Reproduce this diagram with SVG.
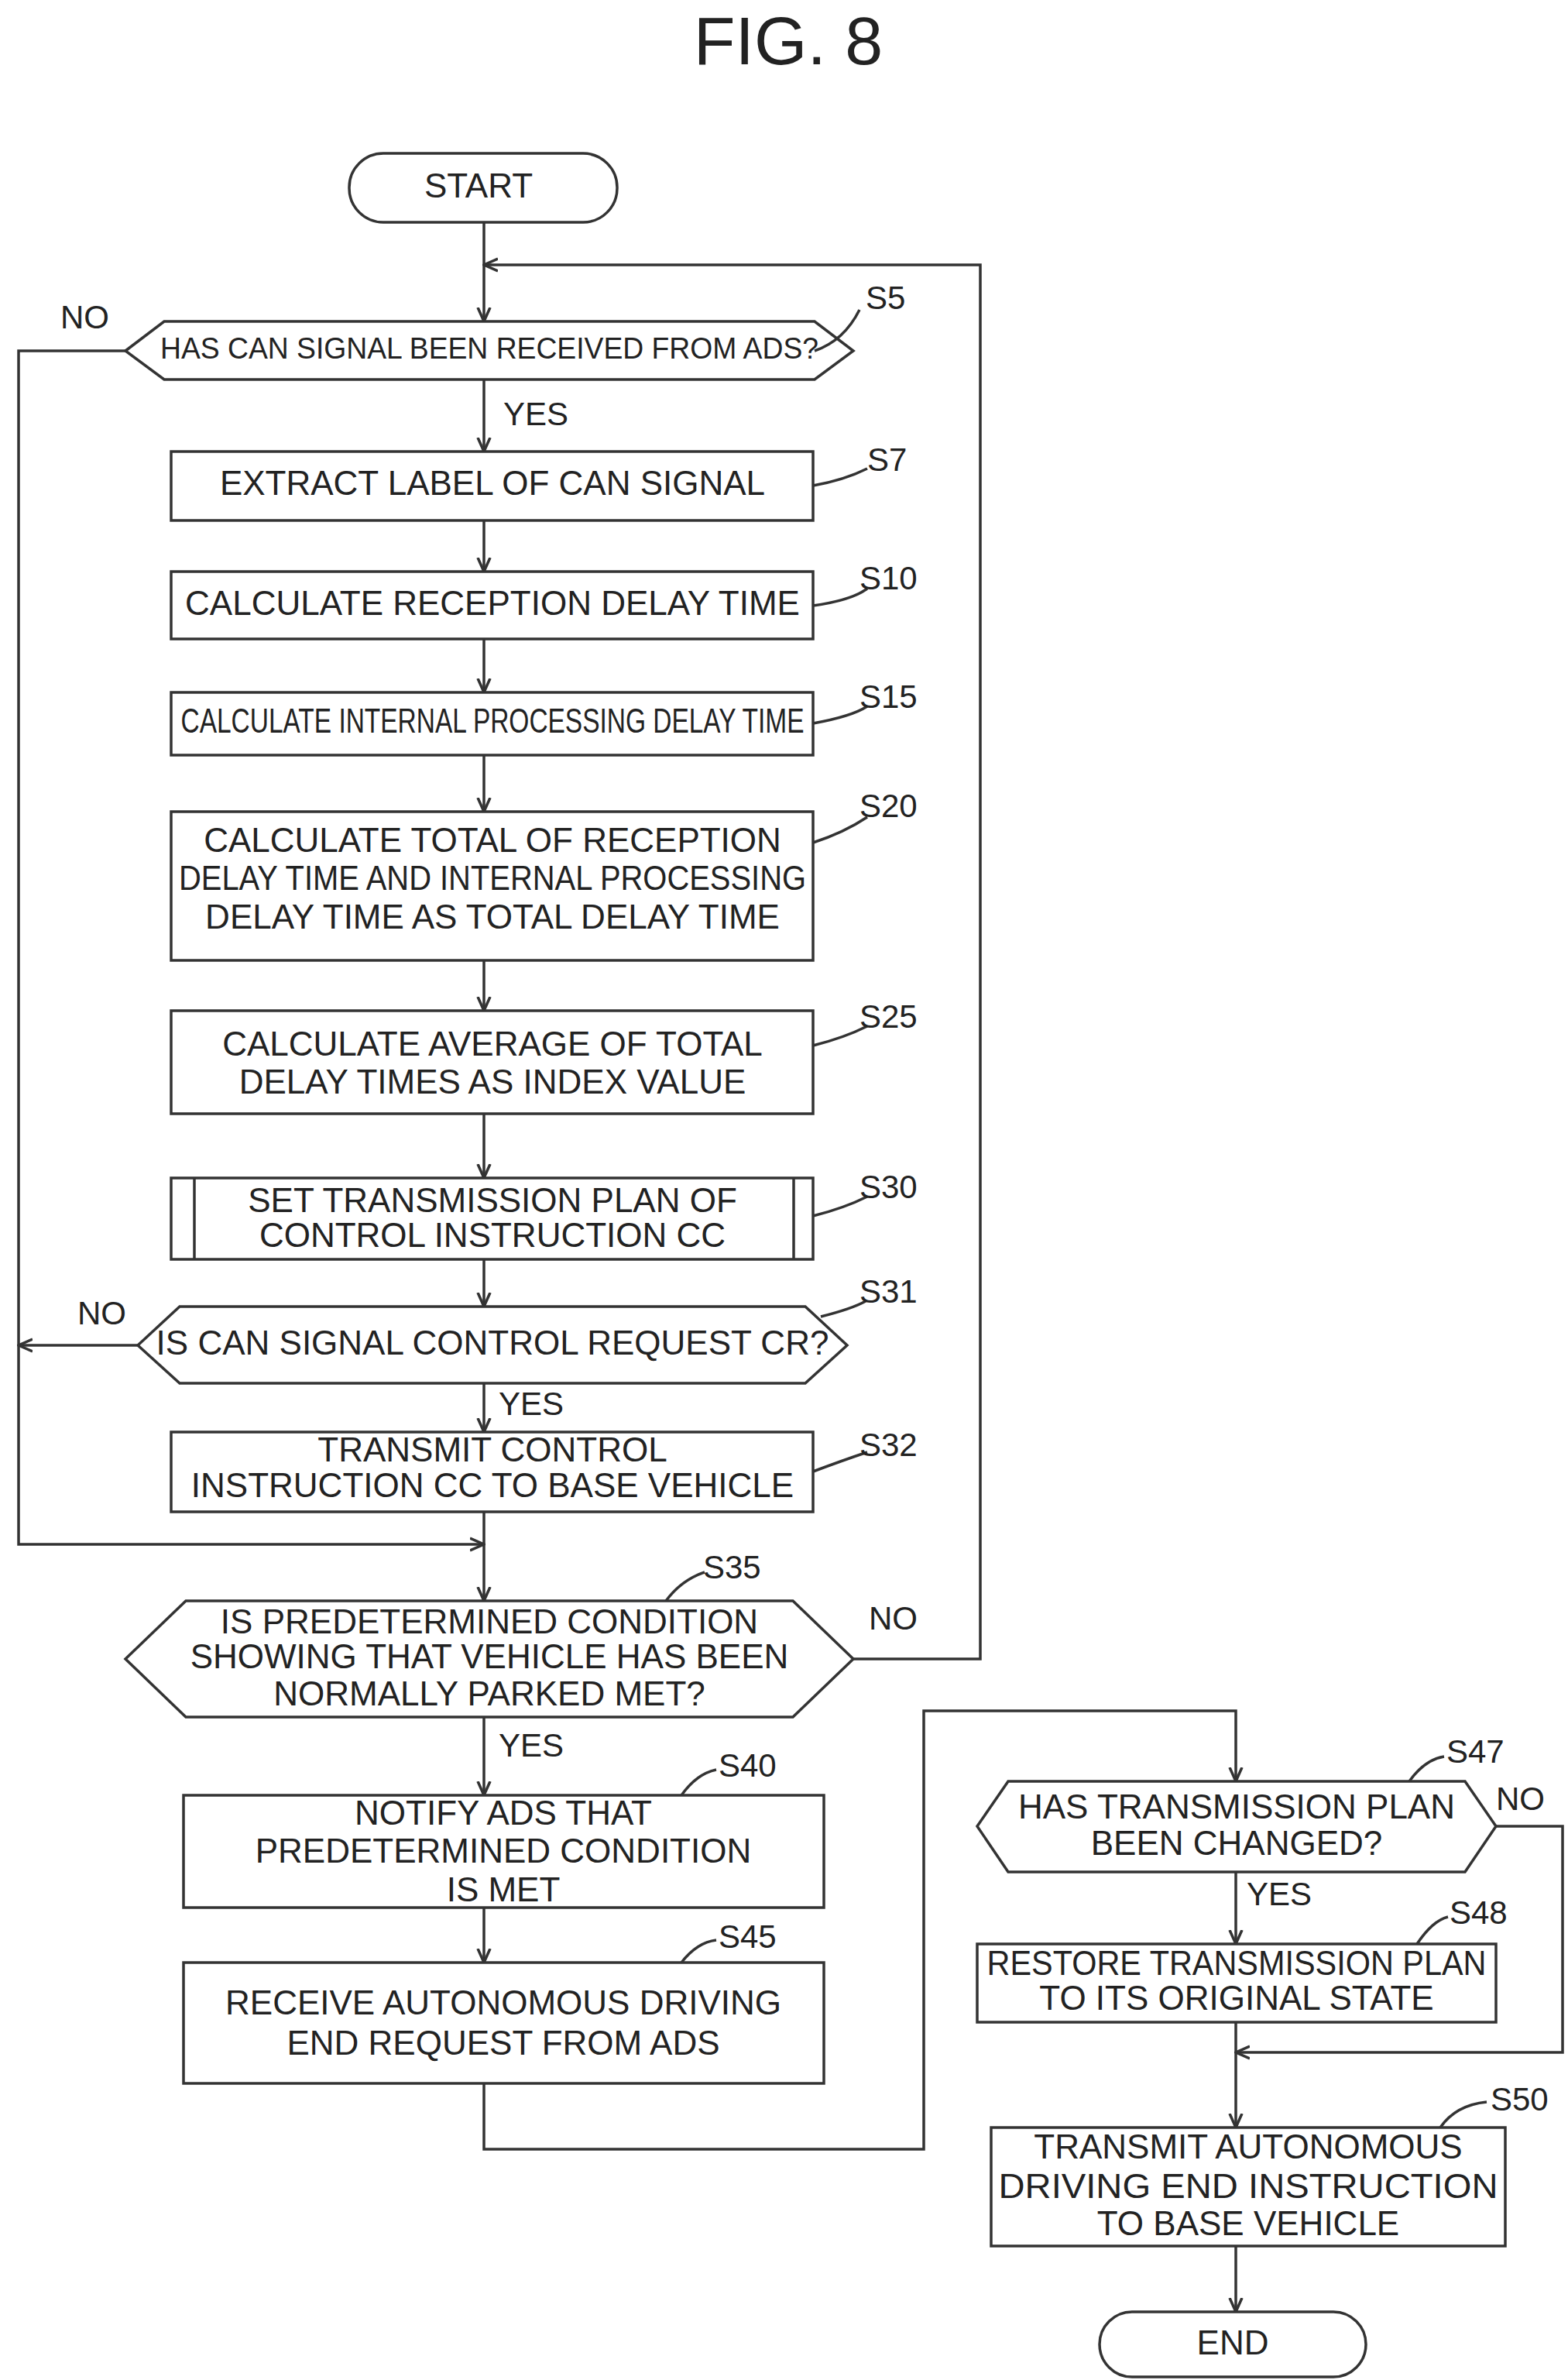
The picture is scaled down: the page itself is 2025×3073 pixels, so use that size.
<svg xmlns="http://www.w3.org/2000/svg" width="2025" height="3073" viewBox="0 0 2025 3073">
<style>
.b{fill:#fff;stroke:#333;stroke-width:3.5}
.c{fill:none;stroke:#333;stroke-width:3.5}
.t{font-family:"Liberation Sans",Arial,sans-serif;font-size:44px;fill:#222;text-anchor:middle;dominant-baseline:middle}
.l{font-family:"Liberation Sans",Arial,sans-serif;font-size:42px;fill:#222;dominant-baseline:middle}
</style>
<defs>
<marker id="a" viewBox="0 0 20 20" refX="18" refY="10" markerWidth="20" markerHeight="20" markerUnits="userSpaceOnUse" orient="auto"><path d="M0,2 L18,10 L0,18" fill="none" stroke="#333" stroke-width="3.5"/></marker>
</defs>
<rect width="2025" height="3073" fill="#fff"/>
<text x="1018" y="60" class="t" style="font-size:88px">FIG. 8</text>
<g id="connectors">
<path class="c" d="M625,287 V342" />
<path class="c" d="M1102,2142 H1266 V342 H625" marker-end="url(#a)"/>
<path class="c" d="M625,342 V415" marker-end="url(#a)"/>
<path class="c" d="M625,490 V583" marker-end="url(#a)"/>
<path class="c" d="M625,672 V738" marker-end="url(#a)"/>
<path class="c" d="M625,825 V894" marker-end="url(#a)"/>
<path class="c" d="M625,975 V1048" marker-end="url(#a)"/>
<path class="c" d="M625,1240 V1305" marker-end="url(#a)"/>
<path class="c" d="M625,1438 V1521" marker-end="url(#a)"/>
<path class="c" d="M625,1626 V1687" marker-end="url(#a)"/>
<path class="c" d="M625,1786 V1849" marker-end="url(#a)"/>
<path class="c" d="M625,1952 V2067" marker-end="url(#a)"/>
<path class="c" d="M162,453 H24 V1994 H625" marker-end="url(#a)"/>
<path class="c" d="M178,1737 H24" marker-end="url(#a)"/>
<path class="c" d="M625,2217 V2318" marker-end="url(#a)"/>
<path class="c" d="M625,2463 V2534" marker-end="url(#a)"/>
<path class="c" d="M625,2690 V2775 H1193 V2209 H1596 V2300" marker-end="url(#a)"/>
<path class="c" d="M1596,2417 V2510" marker-end="url(#a)"/>
<path class="c" d="M1932,2358 H2018 V2650 H1596" marker-end="url(#a)"/>
<path class="c" d="M1596,2611 V2747" marker-end="url(#a)"/>
<path class="c" d="M1596,2900 V2985" marker-end="url(#a)"/>
</g>
<g id="start"><rect class="b" x="451" y="198" width="346" height="89" rx="44"/><text class="t" x="618" y="243">START</text></g>
<g id="s5"><polygon class="b" points="162,453 212,415 1052,415 1102,453 1052,490 212,490"/><text class="t" x="632" y="453" textLength="850" lengthAdjust="spacingAndGlyphs" style="font-size:38px">HAS CAN SIGNAL BEEN RECEIVED FROM ADS?</text>
<path class="c" d="M1052,453 Q1090,440 1110,400"/><text class="l" x="1118" y="388">S5</text>
<text class="l" x="78" y="413">NO</text><text class="l" x="650" y="538">YES</text></g>
<g id="s7"><rect class="b" x="221" y="583" width="829" height="89"/><text class="t" x="636" y="627">EXTRACT LABEL OF CAN SIGNAL</text>
<path class="c" d="M1050,627 Q1090,620 1120,605"/><text class="l" x="1120" y="597">S7</text></g>
<g id="s10"><rect class="b" x="221" y="738" width="829" height="87"/><text class="t" x="636" y="782">CALCULATE RECEPTION DELAY TIME</text>
<path class="c" d="M1050,782 Q1100,775 1120,760"/><text class="l" x="1110" y="750">S10</text></g>
<g id="s15"><rect class="b" x="221" y="894" width="829" height="81"/><text class="t" x="636" y="934" textLength="805" lengthAdjust="spacingAndGlyphs">CALCULATE INTERNAL PROCESSING DELAY TIME</text>
<path class="c" d="M1050,934 Q1100,925 1120,912"/><text class="l" x="1110" y="903">S15</text></g>
<g id="s20"><rect class="b" x="221" y="1048" width="829" height="192"/><text class="t" x="636" y="1088">CALCULATE TOTAL OF RECEPTION</text><text class="t" x="636" y="1137" textLength="810" lengthAdjust="spacingAndGlyphs">DELAY TIME AND INTERNAL PROCESSING</text><text class="t" x="636" y="1187">DELAY TIME AS TOTAL DELAY TIME</text>
<path class="c" d="M1050,1088 Q1090,1075 1120,1055"/><text class="l" x="1110" y="1044">S20</text></g>
<g id="s25"><rect class="b" x="221" y="1305" width="829" height="133"/><text class="t" x="636" y="1351">CALCULATE AVERAGE OF TOTAL</text><text class="t" x="636" y="1400">DELAY TIMES AS INDEX VALUE</text>
<path class="c" d="M1050,1350 Q1090,1340 1120,1325"/><text class="l" x="1110" y="1316">S25</text></g>
<g id="s30"><rect class="b" x="221" y="1521" width="829" height="105"/><path class="c" d="M251,1521 V1626 M1025,1521 V1626"/><text class="t" x="636" y="1553">SET TRANSMISSION PLAN OF</text><text class="t" x="636" y="1598">CONTROL INSTRUCTION CC</text>
<path class="c" d="M1050,1570 Q1090,1560 1120,1545"/><text class="l" x="1110" y="1536">S30</text></g>
<g id="s31"><polygon class="b" points="178,1737 232,1687 1040,1687 1094,1737 1040,1786 232,1786"/><text class="t" x="636" y="1737">IS CAN SIGNAL CONTROL REQUEST CR?</text>
<path class="c" d="M1060,1700 Q1100,1690 1118,1680"/><text class="l" x="1110" y="1671">S31</text>
<text class="l" x="100" y="1699">NO</text><text class="l" x="644" y="1816">YES</text></g>
<g id="s32"><rect class="b" x="221" y="1849" width="829" height="103"/><text class="t" x="636" y="1875">TRANSMIT CONTROL</text><text class="t" x="636" y="1921">INSTRUCTION CC TO BASE VEHICLE</text>
<path class="c" d="M1050,1900 Q1090,1885 1120,1875"/><text class="l" x="1110" y="1869">S32</text></g>
<g id="s35"><polygon class="b" points="162,2142 240,2067 1024,2067 1102,2142 1024,2217 240,2217"/><text class="t" x="632" y="2097">IS PREDETERMINED CONDITION</text><text class="t" x="632" y="2142">SHOWING THAT VEHICLE HAS BEEN</text><text class="t" x="632" y="2190">NORMALLY PARKED MET?</text>
<path class="c" d="M860,2067 Q880,2040 910,2030"/><text class="l" x="908" y="2027">S35</text>
<text class="l" x="1122" y="2093">NO</text><text class="l" x="644" y="2257">YES</text></g>
<g id="s40"><rect class="b" x="237" y="2318" width="827" height="145"/><text class="t" x="650" y="2344">NOTIFY ADS THAT</text><text class="t" x="650" y="2393">PREDETERMINED CONDITION</text><text class="t" x="650" y="2443">IS MET</text>
<path class="c" d="M880,2318 Q900,2290 925,2285"/><text class="l" x="928" y="2283">S40</text></g>
<g id="s45"><rect class="b" x="237" y="2534" width="827" height="156"/><text class="t" x="650" y="2589">RECEIVE AUTONOMOUS DRIVING</text><text class="t" x="650" y="2641">END REQUEST FROM ADS</text>
<path class="c" d="M880,2534 Q900,2508 925,2505"/><text class="l" x="928" y="2504">S45</text></g>
<g id="s47"><polygon class="b" points="1262,2358 1302,2300 1892,2300 1932,2358 1892,2417 1302,2417"/><text class="t" x="1597" y="2336">HAS TRANSMISSION PLAN</text><text class="t" x="1597" y="2383">BEEN CHANGED?</text>
<path class="c" d="M1820,2300 Q1840,2272 1865,2268"/><text class="l" x="1868" y="2265">S47</text>
<text class="l" x="1932" y="2326">NO</text><text class="l" x="1610" y="2449">YES</text></g>
<g id="s48"><rect class="b" x="1262" y="2510" width="670" height="101"/><text class="t" x="1597" y="2538" textLength="645" lengthAdjust="spacingAndGlyphs">RESTORE TRANSMISSION PLAN</text><text class="t" x="1597" y="2583">TO ITS ORIGINAL STATE</text>
<path class="c" d="M1830,2510 Q1850,2480 1870,2475"/><text class="l" x="1872" y="2473">S48</text></g>
<g id="s50"><rect class="b" x="1280" y="2747" width="664" height="153"/><text class="t" x="1612" y="2775">TRANSMIT AUTONOMOUS</text><text class="t" x="1612" y="2826" textLength="645" lengthAdjust="spacingAndGlyphs">DRIVING END INSTRUCTION</text><text class="t" x="1612" y="2874">TO BASE VEHICLE</text>
<path class="c" d="M1860,2747 Q1880,2718 1920,2714"/><text class="l" x="1925" y="2714">S50</text></g>
<g id="end"><rect class="b" x="1420" y="2985" width="344" height="84" rx="42"/><text class="t" x="1592" y="3028">END</text></g>
</svg>
